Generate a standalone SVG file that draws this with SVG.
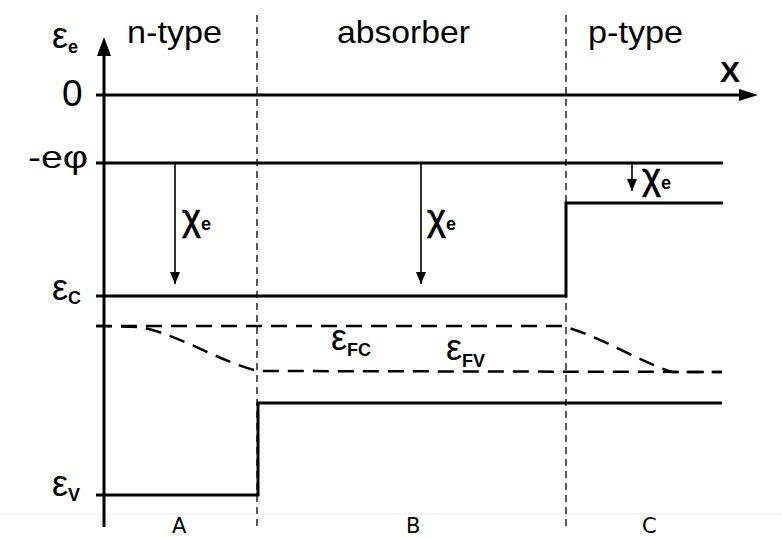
<svg xmlns="http://www.w3.org/2000/svg" width="782" height="538" viewBox="0 0 782 538">
<defs>
<style>
.t{font-family:"Liberation Sans",Arial,sans-serif;fill:#000}
.big{font-size:32px}
.eps{font-size:36px}
.chi{font-family:"Liberation Sans",Arial,sans-serif;font-size:36px;fill:#000;stroke:#000;stroke-width:0.7}
.sub{font-family:"Liberation Sans",Arial,sans-serif;font-style:normal;font-size:18px;font-weight:bold;stroke:none}
.abc{font-family:"DejaVu Sans",sans-serif;font-size:21px;fill:#000}
.ln{stroke:#000;stroke-width:3;fill:none}
.thin{stroke:#000;stroke-width:1.6;fill:none}
.dash{stroke:#000;stroke-width:2.5;fill:none;stroke-dasharray:16 9}
.div{stroke:#222;stroke-width:1.5;fill:none;stroke-dasharray:7 5}
</style>
<marker id="ah" markerWidth="10" markerHeight="12" refX="5" refY="12" orient="0" markerUnits="userSpaceOnUse">
<path d="M0,0 L10,0 L5,12 Z" fill="#000"/>
</marker>
</defs>
<rect width="782" height="538" fill="#fff"/>
<line x1="0" y1="514" x2="782" y2="514" stroke="#ececec" stroke-width="1"/>

<g id="dividers">
<line class="div" x1="257" y1="15" x2="257" y2="528"/>
<line class="div" x1="566" y1="15" x2="566" y2="528"/>
</g>

<g id="axes">
<line class="ln" x1="104" y1="52" x2="104" y2="527"/>
<path d="M97,56 L104,37 L111,56 Z" fill="#000"/>
<line class="ln" x1="96" y1="95" x2="742" y2="95"/>
<path d="M739,89 L758,95 L739,101 Z" fill="#000"/>
<line class="ln" x1="96" y1="163" x2="723" y2="163"/>
</g>

<g id="conduction-band">
<path class="ln" d="M96,296 H566 V203 H723"/>
</g>
<g id="valence-band">
<path class="ln" d="M96,495 H258 V403 H722"/>
</g>
<g id="quasi-fermi">
<path class="dash" d="M96,326 L562,326 C600,336 640,362 672,372 L722,372"/>
<path class="dash" d="M96,326 L140,327 C180,335 220,362 258,371 L722,372"/>
</g>

<g id="connectors">
<line class="thin" x1="175" y1="163" x2="175" y2="284" marker-end="url(#ah)"/>
<line class="thin" x1="421" y1="163" x2="421" y2="284" marker-end="url(#ah)"/>
<line class="thin" x1="632" y1="163" x2="632" y2="191" marker-end="url(#ah)"/>
</g>

<g id="labels">
<text class="t big" x="127" y="43" textLength="95" lengthAdjust="spacingAndGlyphs">n-type</text>
<text class="t big" x="337" y="43" textLength="133" lengthAdjust="spacingAndGlyphs">absorber</text>
<text class="t big" x="588" y="43" textLength="95" lengthAdjust="spacingAndGlyphs">p-type</text>
<text class="t" x="720" y="82" font-size="30" font-weight="bold">X</text>
<text class="t" x="62" y="106" font-size="37">0</text>
<text class="t big" x="28" y="168" textLength="60" lengthAdjust="spacingAndGlyphs">-eφ</text>
<text class="t eps" x="52" y="48">ε<tspan class="sub" font-size="15" dy="5">e</tspan></text>
<text class="t eps" x="52" y="300">ε<tspan class="sub" dy="4">C</tspan></text>
<text class="t eps" x="52" y="496">ε<tspan class="sub" dy="5">V</tspan></text>
<text class="chi" x="182" y="230">χ<tspan class="sub" font-size="16">e</tspan></text>
<text class="chi" x="427" y="230">χ<tspan class="sub" font-size="16">e</tspan></text>
<text class="chi" x="642" y="189" font-size="30">χ<tspan class="sub" font-size="15">e</tspan></text>
<text class="t eps" x="331" y="350">ε<tspan class="sub" dy="6">FC</tspan></text>
<text class="t eps" x="446" y="360">ε<tspan class="sub" dy="7">FV</tspan></text>
<text class="abc" x="172" y="533">A</text>
<text class="abc" x="406" y="533">B</text>
<text class="abc" x="642" y="533">C</text>
</g>
</svg>
